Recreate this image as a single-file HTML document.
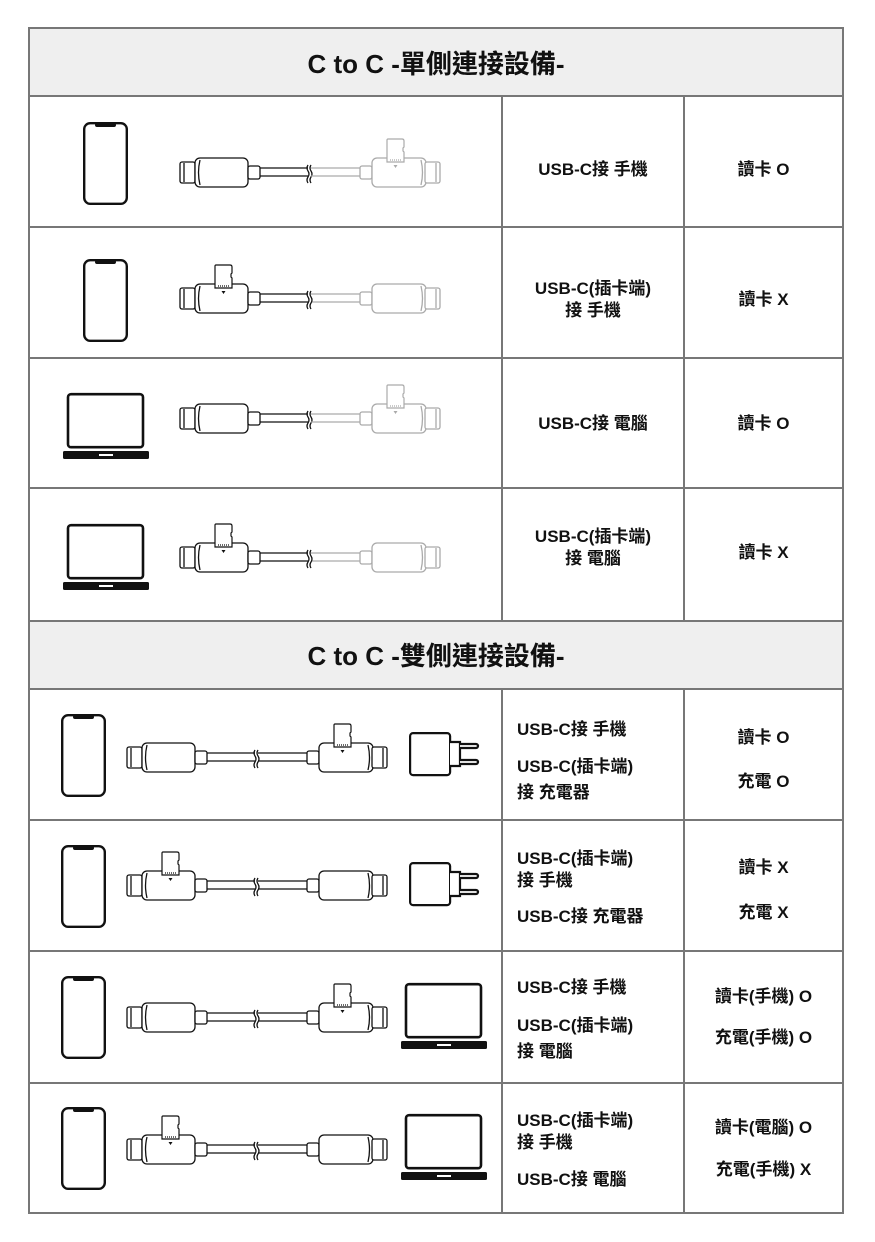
<!DOCTYPE html>
<html><head><meta charset="utf-8">
<style>
html,body{margin:0;padding:0;background:#fff;}
body{width:875px;height:1242px;position:relative;overflow:hidden;font-family:"Liberation Sans","Noto Sans CJK TC",sans-serif;}
.t{position:absolute;font-size:17px;font-weight:bold;color:#111;line-height:22px;white-space:nowrap;}
.c{text-align:center;}
.h{position:absolute;left:29px;width:814px;text-align:center;font-size:26px;font-weight:bold;color:#111;}
svg{position:absolute;left:0;top:0;}
</style></head><body>
<svg width="875" height="1242" viewBox="0 0 875 1242">
<defs>
<g id="lh" fill="#fff" stroke-width="1.3">
  <rect x="0" y="4" width="15" height="21" rx="2"/>
  <line x1="4" y1="5" x2="4" y2="24"/>
  <rect x="15" y="0" width="53" height="29" rx="5"/>
  <path d="M20 2 Q17 14.5 20 27" fill="none"/>
  <rect x="68" y="8" width="12" height="13" rx="2"/>
  <text x="26" y="19" font-size="12" font-family="Liberation Sans" stroke="none">C</text>
  <line x1="80" y1="10" x2="128" y2="10"/><line x1="80" y1="18" x2="128" y2="18"/>
  <path d="M128 7 q-2 3 0 6 q2 3 0 6 q-2 3 0 6" fill="none"/>
  <path d="M131 7 q-2 3 0 6 q2 3 0 6 q-2 3 0 6" fill="none"/>
</g>
<g id="rh" fill="#fff" stroke-width="1.3">
  <line x1="131" y1="10" x2="180" y2="10"/><line x1="131" y1="18" x2="180" y2="18"/>
  <rect x="180" y="8" width="12" height="13" rx="2"/>
  <rect x="192" y="0" width="54" height="29" rx="5"/>
  <path d="M241 2 Q244 14.5 241 27" fill="none"/>
  <rect x="245" y="4" width="15" height="21" rx="2"/>
  <line x1="256" y1="5" x2="256" y2="24"/>
  <text x="229" y="19" font-size="12" font-family="Liberation Sans" stroke="none">C</text>
</g>
<g id="card" stroke-width="1.2">
  <path d="M0 1 q0 -1 1 -1 h14 q2 0 2 2 v6 l-1 1 v3 l1 1 v10 h-17 z" fill="#fff"/>
  <line x1="3" y1="21" x2="14" y2="21" stroke-dasharray="1 1"/>
  <path d="M6.5 26 h4 l-2 3 z" stroke="none"/>
</g>
<g id="phone">
  <rect x="1.2" y="1.2" width="42.6" height="80.6" rx="6" fill="none" stroke="#111" stroke-width="2.4"/>
  <rect x="12" y="1" width="21" height="4" rx="2" fill="#111"/>
</g>
<g id="laptop">
  <rect x="5" y="1.2" width="75" height="53" rx="3" fill="none" stroke="#111" stroke-width="2.6"/>
  <rect x="0" y="58" width="86" height="8" rx="1.5" fill="#111"/>
  <rect x="36" y="61" width="14" height="2" fill="#fff"/>
</g>
<g id="charger" stroke="#111" stroke-width="2.2" fill="#fff">
  <rect x="1.1" y="1.1" width="40" height="42" rx="3"/>
  <path d="M41 10 h10 v24 h-10"/>
  <path d="M51 12 h16 a2 2 0 0 1 0 4 h-16"/>
  <path d="M51 28 h16 a2 2 0 0 1 0 4 h-16"/>
</g>
</defs>

<rect x="29" y="28" width="814" height="68" fill="#efefef"/>
<rect x="29" y="621" width="814" height="68" fill="#efefef"/>
<g stroke="#777" stroke-width="2" fill="none">
<rect x="29" y="28" width="814" height="1185"/>
<line x1="29" y1="96" x2="843" y2="96"/>
<line x1="29" y1="227" x2="843" y2="227"/>
<line x1="29" y1="358" x2="843" y2="358"/>
<line x1="29" y1="488" x2="843" y2="488"/>
<line x1="29" y1="621" x2="843" y2="621"/>
<line x1="29" y1="689" x2="843" y2="689"/>
<line x1="29" y1="820" x2="843" y2="820"/>
<line x1="29" y1="951" x2="843" y2="951"/>
<line x1="29" y1="1083" x2="843" y2="1083"/>
<line x1="502" y1="96" x2="502" y2="621"/>
<line x1="684" y1="96" x2="684" y2="621"/>
<line x1="502" y1="689" x2="502" y2="1213"/>
<line x1="684" y1="689" x2="684" y2="1213"/>
</g>

<use href="#phone" x="83" y="122"/>
<g transform="translate(180,158)"><use href="#lh" stroke="#111" fill="#111"/><g stroke="#aaa" fill="#aaa"><use href="#rh"/><g transform="translate(207,-19)"><use href="#card"/></g></g></g>
<use href="#phone" x="83" y="259"/>
<g transform="translate(180,284)"><g stroke="#aaa" fill="#aaa"><use href="#rh"/></g><g stroke="#111" fill="#111"><use href="#lh"/><g transform="translate(35,-19)"><use href="#card"/></g></g></g>
<use href="#laptop" x="63" y="393"/>
<g transform="translate(180,404)"><use href="#lh" stroke="#111" fill="#111"/><g stroke="#aaa" fill="#aaa"><use href="#rh"/><g transform="translate(207,-19)"><use href="#card"/></g></g></g>
<use href="#laptop" x="63" y="524"/>
<g transform="translate(180,543)"><g stroke="#aaa" fill="#aaa"><use href="#rh"/></g><g stroke="#111" fill="#111"><use href="#lh"/><g transform="translate(35,-19)"><use href="#card"/></g></g></g>

<use href="#phone" x="61" y="714"/>
<g transform="translate(127,743)" stroke="#111" fill="#111"><use href="#lh"/><use href="#rh"/><g transform="translate(207,-19)"><use href="#card"/></g></g>
<use href="#charger" x="409" y="732"/>
<use href="#phone" x="61" y="845"/>
<g transform="translate(127,871)" stroke="#111" fill="#111"><use href="#lh"/><use href="#rh"/><g transform="translate(35,-19)"><use href="#card"/></g></g>
<use href="#charger" x="409" y="862"/>
<use href="#phone" x="61" y="976"/>
<g transform="translate(127,1003)" stroke="#111" fill="#111"><use href="#lh"/><use href="#rh"/><g transform="translate(207,-19)"><use href="#card"/></g></g>
<use href="#laptop" x="401" y="983"/>
<use href="#phone" x="61" y="1107"/>
<g transform="translate(127,1135)" stroke="#111" fill="#111"><use href="#lh"/><use href="#rh"/><g transform="translate(35,-19)"><use href="#card"/></g></g>
<use href="#laptop" x="401" y="1114"/>
</svg>

<div class="h" style="top:46px;line-height:36px;">C to C -單側連接設備-</div>
<div class="h" style="top:638px;line-height:36px;">C to C -雙側連接設備-</div>

<div class="t c" style="left:502px;width:182px;top:159px;">USB-C接 手機</div>
<div class="t c" style="left:684px;width:159px;top:159px;">讀卡 O</div>

<div class="t c" style="left:502px;width:182px;top:278px;">USB-C(插卡端)<br>接 手機</div>
<div class="t c" style="left:684px;width:159px;top:289px;">讀卡 X</div>

<div class="t c" style="left:502px;width:182px;top:413px;">USB-C接 電腦</div>
<div class="t c" style="left:684px;width:159px;top:413px;">讀卡 O</div>

<div class="t c" style="left:502px;width:182px;top:526px;">USB-C(插卡端)<br>接 電腦</div>
<div class="t c" style="left:684px;width:159px;top:542px;">讀卡 X</div>

<div class="t" style="left:517px;top:719px;">USB-C接 手機</div>
<div class="t" style="left:517px;top:754px;line-height:26px;">USB-C(插卡端)<br>接 充電器</div>
<div class="t c" style="left:684px;width:159px;top:727px;">讀卡 O</div>
<div class="t c" style="left:684px;width:159px;top:771px;">充電 O</div>

<div class="t" style="left:517px;top:848px;line-height:22px;">USB-C(插卡端)<br>接 手機</div>
<div class="t" style="left:517px;top:906px;">USB-C接 充電器</div>
<div class="t c" style="left:684px;width:159px;top:857px;">讀卡 X</div>
<div class="t c" style="left:684px;width:159px;top:902px;">充電 X</div>

<div class="t" style="left:517px;top:977px;">USB-C接 手機</div>
<div class="t" style="left:517px;top:1013px;line-height:26px;">USB-C(插卡端)<br>接 電腦</div>
<div class="t c" style="left:684px;width:159px;top:986px;">讀卡(手機) O</div>
<div class="t c" style="left:684px;width:159px;top:1027px;">充電(手機) O</div>

<div class="t" style="left:517px;top:1110px;line-height:22px;">USB-C(插卡端)<br>接 手機</div>
<div class="t" style="left:517px;top:1169px;">USB-C接 電腦</div>
<div class="t c" style="left:684px;width:159px;top:1117px;">讀卡(電腦) O</div>
<div class="t c" style="left:684px;width:159px;top:1159px;">充電(手機) X</div>
</body></html>
